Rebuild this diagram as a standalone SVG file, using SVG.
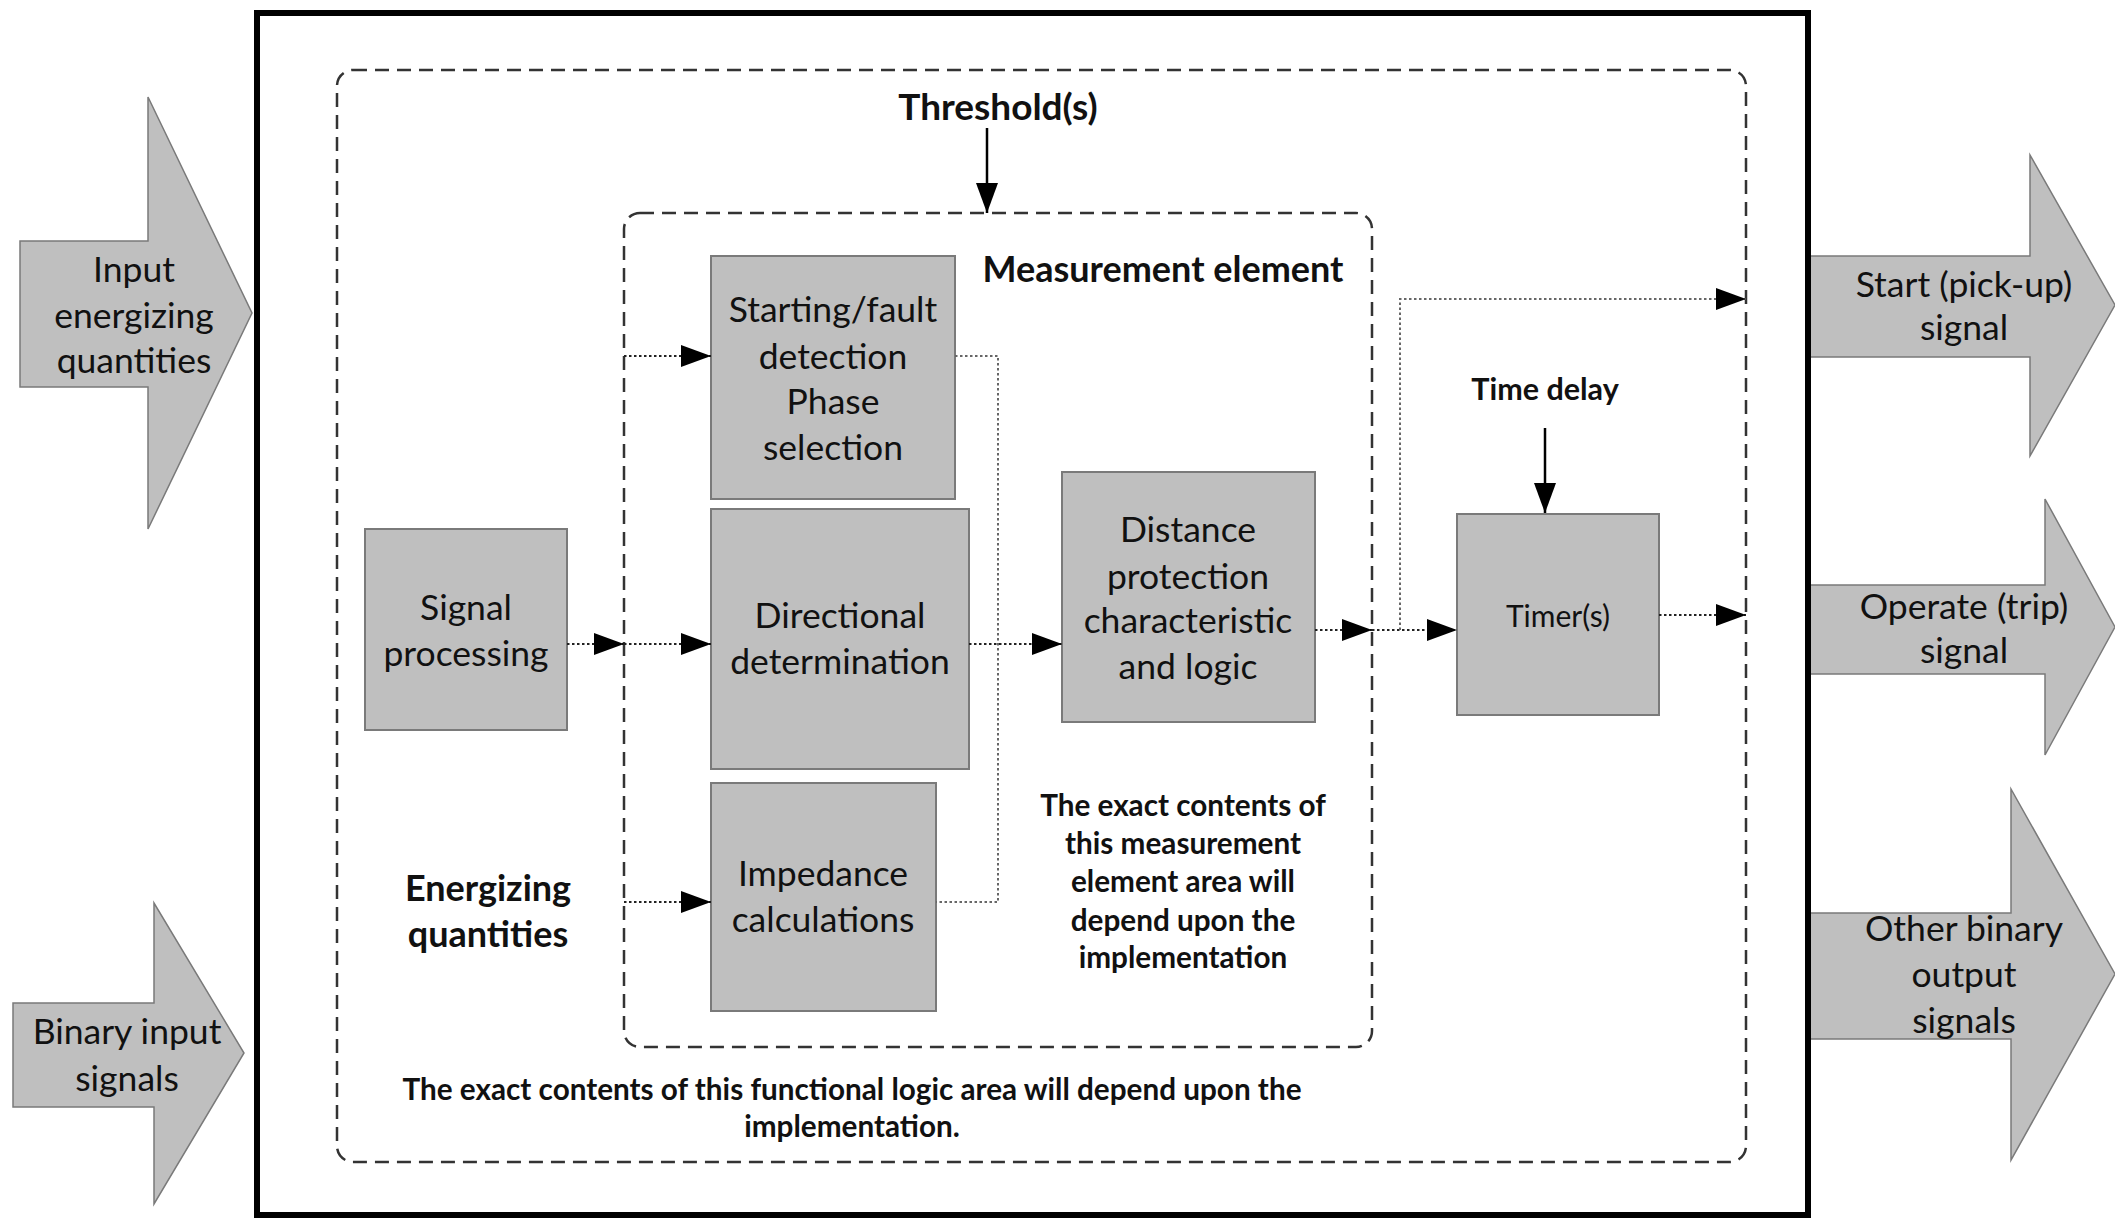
<svg xmlns="http://www.w3.org/2000/svg" width="2115" height="1219" viewBox="0 0 2115 1219">
<style>
text{font-family:Lato,"Liberation Sans",sans-serif;fill:#111;text-anchor:middle}
.t{font-size:35.5px}
.b{font-size:36px;font-weight:bold}
.th{font-size:37px;font-weight:bold}
.nb{font-size:29.7px;font-weight:bold}
.sm{font-size:30px}
.smb{font-size:30.5px;font-weight:bold}
.blk{fill:#bfbfbf;stroke:#7a7a7a;stroke-width:1.5}
.box{fill:#bfbfbf;stroke:#7a7a7a;stroke-width:2}
.dash{fill:none;stroke:#333;stroke-width:2.5;stroke-dasharray:14 8}
.dot{fill:none;stroke:#222;stroke-width:2;stroke-dasharray:2.5 2.5}
.dotg{fill:none;stroke:#666;stroke-width:2;stroke-dasharray:2.5 2.5}
.sol{fill:none;stroke:#000;stroke-width:2.5}
</style>
<defs>
<marker id="ah" markerUnits="userSpaceOnUse" markerWidth="30" markerHeight="22" refX="30" refY="11" orient="auto">
<path d="M0,0 L30,11 L0,22 z" fill="#000"/>
</marker>
</defs>
<rect width="2115" height="1219" fill="#fff"/>

<g id="input-energizing">
<polygon class="blk" points="20,241 148,241 148,97 252,313 148,529 148,387 20,387"/>
<text class="t" x="134" y="282">Input</text>
<text class="t" x="134" y="328">energizing</text>
<text class="t" x="134" y="373">quantities</text>
</g>
<g id="binary-input">
<polygon class="blk" points="13,1003 154,1003 154,903 244,1053 154,1204 154,1107 13,1107"/>
<text class="t" x="127" y="1044">Binary input</text>
<text class="t" x="127" y="1091">signals</text>
</g>
<g id="start-signal">
<polygon class="blk" points="1800,256 2030,256 2030,155 2115,305 2030,456 2030,357 1800,357"/>
<text class="t" x="1964" y="297">Start (pick-up)</text>
<text class="t" x="1964" y="340">signal</text>
</g>
<g id="operate-signal">
<polygon class="blk" points="1800,585 2045,585 2045,499 2115,627 2045,755 2045,674 1800,674"/>
<text class="t" x="1964" y="619">Operate (trip)</text>
<text class="t" x="1964" y="663">signal</text>
</g>
<g id="other-output">
<polygon class="blk" points="1800,913 2011,913 2011,789 2115,974 2011,1160 2011,1039 1800,1039"/>
<text class="t" x="1964" y="941">Other binary</text>
<text class="t" x="1964" y="987">output</text>
<text class="t" x="1964" y="1033">signals</text>
</g>

<g id="function-block">
<rect x="257" y="13" width="1551" height="1202" fill="#fff" stroke="#000" stroke-width="6"/>
</g>
<g id="functional-logic-area">
<rect class="dash" x="337" y="70" width="1409" height="1092" rx="16"/>
<text class="nb" x="852" y="1100">The exact contents of this functional logic area will depend upon the</text>
<text class="nb" x="852" y="1137">implementation.</text>
</g>
<g id="measurement-element">
<rect class="dash" x="624" y="213" width="748" height="834" rx="16"/>
<text class="b" x="1163" y="282">Measurement element</text>
<text class="nb" x="1183" y="816">The exact contents of</text>
<text class="nb" x="1183" y="854">this measurement</text>
<text class="nb" x="1183" y="892">element area will</text>
<text class="nb" x="1183" y="931">depend upon the</text>
<text class="nb" x="1183" y="968">implementation</text>
</g>
<g id="threshold">
<text class="th" x="998" y="120">Threshold(s)</text>
</g>
<g id="time-delay">
<text class="smb" x="1545" y="400">Time delay</text>
</g>
<g id="energizing-quantities">
<text class="b" x="488" y="901">Energizing</text>
<text class="b" x="488" y="947">quantities</text>
</g>

<g id="signal-processing">
<rect class="box" x="365" y="529" width="202" height="201"/>
<text class="t" x="466" y="620">Signal</text>
<text class="t" x="466" y="666">processing</text>
</g>
<g id="starting-fault">
<rect class="box" x="711" y="256" width="244" height="243"/>
<text class="t" x="833" y="322">Starting/fault</text>
<text class="t" x="833" y="369">detection</text>
<text class="t" x="833" y="414">Phase</text>
<text class="t" x="833" y="460">selection</text>
</g>
<g id="directional">
<rect class="box" x="711" y="509" width="258" height="260"/>
<text class="t" x="840" y="628">Directional</text>
<text class="t" x="840" y="674">determination</text>
</g>
<g id="impedance">
<rect class="box" x="711" y="783" width="225" height="228"/>
<text class="t" x="823" y="886">Impedance</text>
<text class="t" x="823" y="932">calculations</text>
</g>
<g id="distance-protection">
<rect class="box" x="1062" y="472" width="253" height="250"/>
<text class="t" x="1188" y="542">Distance</text>
<text class="t" x="1188" y="589">protection</text>
<text class="t" x="1188" y="633">characteristic</text>
<text class="t" x="1188" y="679">and logic</text>
</g>
<g id="timers">
<rect class="box" x="1457" y="514" width="202" height="201"/>
<text class="sm" x="1558" y="627">Timer(s)</text>
</g>

<g id="connectors">
<path class="dot" d="M567,644 H624" marker-end="url(#ah)"/>
<path class="dot" d="M624,644 H711" marker-end="url(#ah)"/>
<path class="dot" d="M624,356 H711" marker-end="url(#ah)"/>
<path class="dot" d="M624,902 H711" marker-end="url(#ah)"/>
<path class="dotg" d="M955,356 H998 V902 H936"/>
<path class="dot" d="M969,644 H1062" marker-end="url(#ah)"/>
<path class="dot" d="M1315,630 H1372" marker-end="url(#ah)"/>
<path class="dot" d="M1372,630 H1457" marker-end="url(#ah)"/>
<path class="dotg" d="M1400,630 V299 H1746" marker-end="url(#ah)"/>
<path class="dot" d="M1659,615 H1746" marker-end="url(#ah)"/>
<path class="sol" d="M987,128 V213" marker-end="url(#ah)"/>
<path class="sol" d="M1545,428 V513" marker-end="url(#ah)"/>
</g>
</svg>
